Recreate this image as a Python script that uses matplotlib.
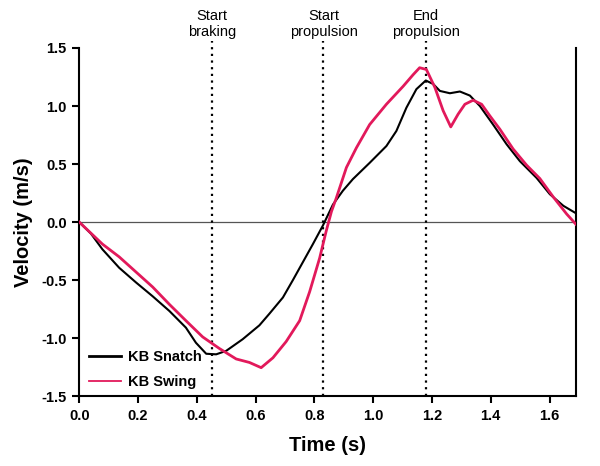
import matplotlib.pyplot as plt

plt.rcParams['font.family'] = ['Liberation Sans', 'DejaVu Sans']

# Data
snatch_t = [0, 0.04, 0.079, 0.136, 0.193, 0.25, 0.307, 0.363, 0.397, 0.432, 0.466, 0.5,
            0.556, 0.613, 0.647, 0.693, 0.727, 0.761, 0.795, 0.829, 0.863, 0.897, 0.931,
            0.988, 1.045, 1.079, 1.113, 1.147, 1.179, 1.204, 1.227, 1.261, 1.295, 1.329,
            1.363, 1.408, 1.454, 1.499, 1.556, 1.601, 1.647, 1.687]
snatch_v = [0, -0.1, -0.235, -0.394, -0.52, -0.64, -0.767, -0.91, -1.04, -1.135, -1.14, -1.11,
            -1.01, -0.89, -0.79, -0.65, -0.5, -0.345, -0.19, -0.03, 0.15, 0.27, 0.37,
            0.51, 0.655, 0.785, 0.985, 1.145, 1.22, 1.19, 1.13, 1.11, 1.125, 1.09,
            1.0, 0.84, 0.67, 0.525, 0.38, 0.24, 0.14, 0.08]

swing_t = [0, 0.079, 0.136, 0.193, 0.25, 0.307, 0.363, 0.42, 0.477, 0.534, 0.579, 0.619,
           0.659, 0.704, 0.75, 0.784, 0.818, 0.84, 0.858, 0.875, 0.909, 0.943, 0.988,
           1.045, 1.102, 1.136, 1.158, 1.181, 1.21, 1.238, 1.264, 1.289, 1.312, 1.34,
           1.369, 1.397, 1.431, 1.476, 1.522, 1.567, 1.613, 1.658, 1.69]
swing_v = [0, -0.19, -0.3, -0.43, -0.56, -0.71, -0.85, -0.99, -1.09, -1.18, -1.21, -1.255,
           -1.17, -1.03, -0.85, -0.6, -0.31, -0.08, 0.09, 0.21, 0.47, 0.64, 0.84,
           1.015, 1.17, 1.27, 1.33, 1.315, 1.16, 0.96, 0.82, 0.93, 1.015, 1.05,
           1.015, 0.915, 0.8, 0.63, 0.49, 0.375, 0.215, 0.07, -0.02]

phase_t = [0.452, 0.831, 1.18]
phase_labels = ['Start\nbraking', 'Start\npropulsion', 'End\npropulsion']

fig = plt.figure(figsize=(6, 4.66), dpi=100)
ax = fig.add_axes([0.132, 0.15, 0.828, 0.747])

# zero line
ax.axhline(0, color='#555555', linewidth=0.9, zorder=1)

# phase markers, extending a bit above the plot
for t, lab in zip(phase_t, phase_labels):
    ax.plot([t, t], [-1.5, 1.56], color='black', linestyle=(0, (1, 2)), linewidth=1.6,
            clip_on=False, zorder=2)
    ax.text(t, 1.575, lab, ha='center', va='bottom', fontsize=10.5, linespacing=1.2)

ax.plot(snatch_t, snatch_v, color='black', linewidth=1.5, label='KB Snatch', zorder=3)
ax.plot(swing_t, swing_v, color='#e2195b', linewidth=2.0, label='KB Swing', zorder=4)

ax.set_xlim(0, 1.69)
ax.set_ylim(-1.5, 1.5)
ax.set_xticks([0.0, 0.2, 0.4, 0.6, 0.8, 1.0, 1.2, 1.4, 1.6])
ax.set_yticks([-1.5, -1.0, -0.5, 0.0, 0.5, 1.0, 1.5])
ax.xaxis.set_major_formatter(plt.FormatStrFormatter('%.1f'))
ax.yaxis.set_major_formatter(plt.FormatStrFormatter('%.1f'))
for lab in ax.get_xticklabels() + ax.get_yticklabels():
    lab.set_fontweight('bold')
    lab.set_fontsize(10.5)
ax.tick_params(direction='out', length=5, width=1.5, pad=4)
ax.tick_params(axis='y', right=False)

ax.spines['top'].set_visible(False)
for s in ['left', 'bottom', 'right']:
    ax.spines[s].set_linewidth(1.5)

ax.set_xlabel('Time (s)', fontsize=14.5, fontweight='bold', labelpad=10)
ax.set_ylabel('Velocity (m/s)', fontsize=14.5, fontweight='bold', labelpad=6)

leg = ax.legend(loc='lower left', frameon=False, fontsize=10.5, handlelength=2.2,
                handletextpad=0.5, borderaxespad=0.2, borderpad=0.3, labelspacing=0.75,
                bbox_to_anchor=(0.005, 0.0))
for txt in leg.get_texts():
    txt.set_fontweight('bold')
leg.get_lines()[0].set_linewidth(2.0)
leg.get_lines()[1].set_linewidth(1.3)

plt.savefig('out.png', dpi=100)
plt.close()
